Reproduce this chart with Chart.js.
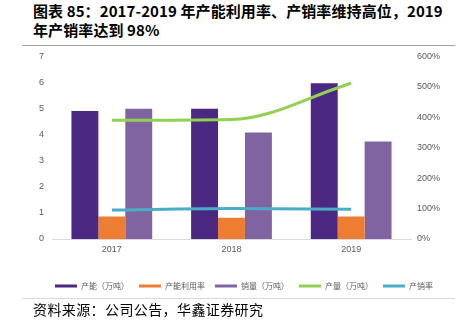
<!DOCTYPE html>
<html lang="zh">
<head>
<meta charset="UTF-8">
<title>产能利用率与产销率</title>
<script src="https://cdn.jsdelivr.net/npm/chart.js@4.4.1/dist/chart.umd.min.js"></script>
<style>
  body { margin: 0; width: 460px; height: 331px; background: #fff; position: relative; overflow: hidden;
         font-family: "Noto Sans CJK SC", "Noto Sans", sans-serif; }
  #title { position: absolute; left: 33px; top: 1px; font-size: 15px; font-weight: bold; line-height: 19px; color: #000; letter-spacing: 0.1px; }
  .rule { position: absolute; left: 22px; width: 433px; height: 1px; }
  #chartBox { position: absolute; left: 0; top: 43px; width: 460px; height: 257px; }
  #source { position: absolute; left: 33px; top: 299px; font-size: 14px; letter-spacing: 0.4px; color: #000; }
</style>
</head>
<body>
<div id="title">图表 85：2017-2019 年产能利用率、产销率维持高位，2019<br>年产销率达到 98%</div>
<div class="rule" style="top:45px;background:#a6a6a6"></div>
<div id="chartBox"><canvas id="myChart"></canvas></div>
<div class="rule" style="top:298px;background:#d9d9d9"></div>
<div id="source">资料来源：公司公告，华鑫证券研究</div>

<script>
const years = ['2017', '2018', '2019'];
const capacity = [4.91, 4.99, 5.97];      // 产能（万吨）
const utilization = [0.86, 0.81, 0.86];   // 产能利用率
const sales = [4.99, 4.08, 3.74];         // 销量（万吨）
const output = [4.55, 4.58, 5.97];        // 产量（万吨）
const sellRate = [95, 100, 98];           // 产销率 %

const leftTicks = [0, 1, 2, 3, 4, 5, 6, 7];
const rightTicks = [0, 100, 200, 300, 400, 500, 600];

const grey = '#595959';

new Chart(document.getElementById('myChart'), {
  type: 'bar',
  data: {
    labels: years,
    datasets: [
      { label: '产能（万吨）', data: capacity, backgroundColor: '#4b2882', yAxisID: 'y', order: 2 },
      { label: '产能利用率', data: utilization, backgroundColor: '#ed7d31', yAxisID: 'y', order: 2 },
      { label: '销量（万吨）', data: sales, backgroundColor: '#8064a2', yAxisID: 'y', order: 2 },
      { type: 'line', label: '产量（万吨）', data: output, borderColor: '#92d050', backgroundColor: '#92d050',
        borderWidth: 3, pointRadius: 0, cubicInterpolationMode: 'monotone', yAxisID: 'y', order: 1 },
      { type: 'line', label: '产销率', data: sellRate, borderColor: '#4bacc6', backgroundColor: '#4bacc6',
        borderWidth: 3, pointRadius: 0, cubicInterpolationMode: 'monotone', yAxisID: 'y1', order: 1 }
    ]
  },
  options: {
    responsive: true,
    maintainAspectRatio: false,
    animation: false,
    datasets: { bar: { categoryPercentage: 0.675, barPercentage: 1 } },
    // left padding pushes the legend right; y axis width shrinks to keep the plot in place
    layout: { padding: { top: 2, left: 28, right: 0, bottom: 0 } },
    plugins: {
      tooltip: { enabled: false },
      legend: {
        position: 'bottom',
        labels: {
          boxWidth: 22, boxHeight: 3, padding: 10, color: grey,
          font: { family: '"Noto Sans CJK SC"', size: 8 },
          generateLabels(chart) {
            return chart.data.datasets.map((ds, i) => ({
              text: ds.label, fillStyle: ds.backgroundColor, strokeStyle: ds.backgroundColor,
              lineWidth: 0, fontColor: grey, datasetIndex: i, hidden: false
            }));
          }
        }
      }
    },
    scales: {
      x: {
        grid: { display: false, drawTicks: false },
        border: { color: '#d9d9d9' },
        ticks: { color: grey, padding: 5, font: { family: 'Arial, "Liberation Sans"', size: 9 } },
        afterFit(s) { s.height = 33; }
      },
      y: {
        position: 'left', min: 0, max: 7,
        afterBuildTicks(s) { s.ticks = leftTicks.map(v => ({ value: v })); },
        grid: { display: false, drawTicks: false },
        border: { display: false },
        ticks: { color: grey, padding: 8, font: { family: 'Arial, "Liberation Sans"', size: 9 } },
        afterFit(s) { s.width = 24; }
      },
      y1: {
        position: 'right', min: 0, max: 600,
        afterBuildTicks(s) { s.ticks = rightTicks.map(v => ({ value: v })); },
        grid: { display: false, drawTicks: false },
        border: { display: false },
        ticks: { color: grey, padding: 6, callback: v => v + '%', font: { family: 'Arial, "Liberation Sans"', size: 9 } },
        afterFit(s) { s.width = 49; }
      }
    }
  }
});
</script>
</body>
</html>
